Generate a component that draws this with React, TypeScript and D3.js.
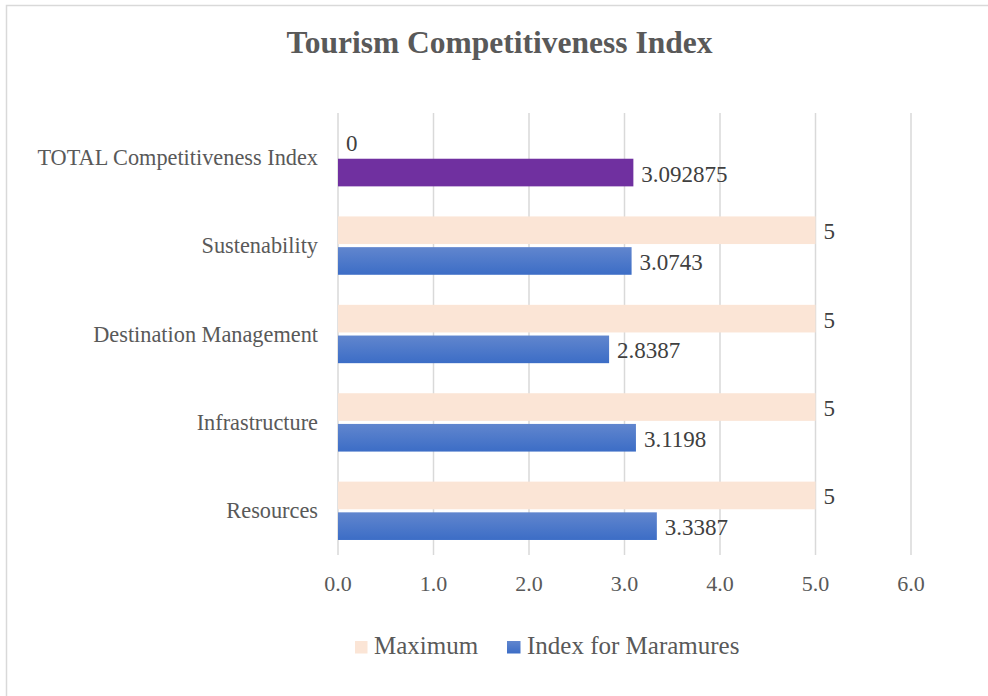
import React from "react";
import * as d3 from "d3";

const categories = [
  "TOTAL Competitiveness Index",
  "Sustenability",
  "Destination Management",
  "Infrastructure",
  "Resources",
];
const maximumValues = [0, 5, 5, 5, 5];
const indexValues = [3.092875, 3.0743, 2.8387, 3.1198, 3.3387];
const indexLabels = ["3.092875", "3.0743", "2.8387", "3.1198", "3.3387"];
const maximumLabels = ["0", "5", "5", "5", "5"];
const xTicks = [0, 1, 2, 3, 4, 5, 6];
const seriesNames = ["Maximum", "Index for Maramures"];

const W = 988;
const H = 696;
const FONT = "'Liberation Serif', 'Times New Roman', serif";

export default function App() {
  const x = d3.scaleLinear().domain([0, 6]).range([338, 911]);
  const y = d3.scaleBand<string>().domain(categories).range([113, 555]).padding(0);
  const groupH = y.bandwidth() * 0.66;
  const sub = d3
    .scaleBand<string>()
    .domain(seriesNames)
    .range([(y.bandwidth() - groupH) / 2, (y.bandwidth() + groupH) / 2])
    .paddingInner(0.1);

  return (
    <svg
      width={W}
      height={H}
      style={{ position: "absolute", left: 0, top: 0, background: "#fff" }}
      fontFamily={FONT}
    >
      <defs>
        <linearGradient id="blueGrad" x1="0" y1="0" x2="0" y2="1">
          <stop offset="0%" stopColor="#6186CE" />
          <stop offset="100%" stopColor="#3C6DC6" />
        </linearGradient>
      </defs>
      <rect x={6.5} y={5.5} width={W + 20} height={H + 20} fill="#fff" stroke="#D9D9D9" strokeWidth={1.5} />

      <text x={499.5} y={53} textAnchor="middle" fontSize={31.5} fontWeight="bold" fill="#595959">
        Tourism Competitiveness Index
      </text>

      {xTicks.map((t) => (
        <line key={"g" + t} x1={x(t)} x2={x(t)} y1={113} y2={555} stroke="#D9D9D9" strokeWidth={1.5} />
      ))}

      {categories.map((c, i) => {
        const y0 = y(c)!;
        const yMax = y0 + sub("Maximum")!;
        const yIdx = y0 + sub("Index for Maramures")!;
        const bh = sub.bandwidth();
        return (
          <g key={c}>
            <rect x={x(0)} y={yMax} width={x(maximumValues[i]) - x(0)} height={bh} fill="#FBE5D6" />
            <rect
              x={x(0)}
              y={yIdx}
              width={x(indexValues[i]) - x(0)}
              height={bh}
              fill={i === 0 ? "#7030A0" : "url(#blueGrad)"}
            />
            <text x={x(maximumValues[i]) + 8} y={yMax + bh / 2 + 1.5} dominantBaseline="central" fontSize={23} fill="#404040">
              {maximumLabels[i]}
            </text>
            <text x={x(indexValues[i]) + 8} y={yIdx + bh / 2 + 1.5} dominantBaseline="central" fontSize={23} fill="#404040">
              {indexLabels[i]}
            </text>
            <text x={318} y={y0 + y.bandwidth() / 2} dominantBaseline="central" textAnchor="end" fontSize={22.3} fill="#595959">
              {c}
            </text>
          </g>
        );
      })}

      {xTicks.map((t) => (
        <text key={"t" + t} x={x(t)} y={583} textAnchor="middle" dominantBaseline="central" fontSize={22} fill="#595959">
          {d3.format(".1f")(t)}
        </text>
      ))}

      <rect x={355} y={641} width={12.5} height={12.5} fill="#FBE5D6" />
      <text x={374} y={654} fontSize={25} fill="#595959">
        {seriesNames[0]}
      </text>
      <rect x={507} y={641} width={13.5} height={12.5} fill="url(#blueGrad)" />
      <text x={527} y={654} fontSize={25} fill="#595959">
        {seriesNames[1]}
      </text>
    </svg>
  );
}
